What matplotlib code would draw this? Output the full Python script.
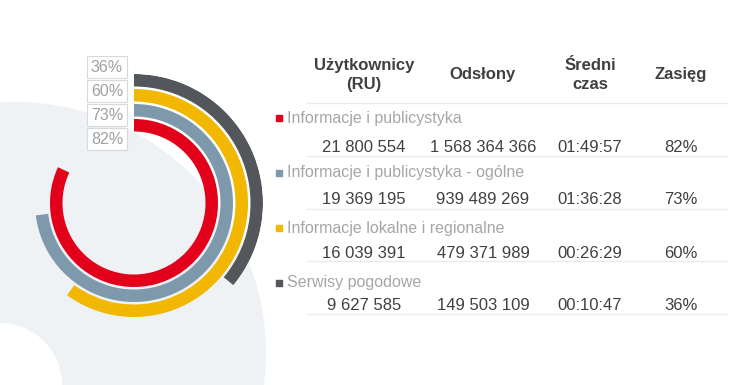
import numpy as np
import matplotlib
matplotlib.use("Agg")
import matplotlib.pyplot as plt
from matplotlib.patches import Circle, Rectangle

plt.rcParams['font.family'] = ['Liberation Sans', 'DejaVu Sans']

# --- dane ---
categories = ['Informacje i publicystyka', 'Informacje i publicystyka - ogólne',
              'Informacje lokalne i regionalne', 'Serwisy pogodowe']
users = ['21 800 554', '19 369 195', '16 039 391', '9 627 585']
views = ['1 568 364 366', '939 489 269', '479 371 989', '149 503 109']
avg_time = ['01:49:57', '01:36:28', '00:26:29', '00:10:47']
reach = [82, 73, 60, 36]
headers = ['Użytkownicy\n(RU)', 'Odsłony', 'Średni\nczas', 'Zasięg']
colors = ['#e3001b', '#7f99ac', '#f2b700', '#53565b']

W, H = 737, 385
fig = plt.figure(figsize=(W / 100, H / 100), dpi=100, facecolor='white')

# tło + tabela w układzie pikseli
bg = fig.add_axes([0, 0, 1, 1])
bg.set_xlim(0, W)
bg.set_ylim(H, 0)
bg.axis('off')
bg.add_patch(Circle((15, 353), 251, color='#eff2f5', lw=0, zorder=0))
bg.add_patch(Circle((0, H), 62, color='white', lw=0, zorder=1))

# kolumny tabeli
col_x = [364, 483, 590, 681]
for x, h in zip(col_x, headers):
    bg.text(x, 75, h, ha='center', va='center', fontsize=12, fontweight='bold',
            color='#404040', linespacing=1.3, multialignment='center')

for i, cat in enumerate(categories):
    y_lab = 118 + 55 * i
    y_num = 147 + 53 * i
    bg.plot([279], [y_lab], marker='s', ms=4, color=colors[i], lw=0)
    bg.text(287, y_lab, cat, ha='left', va='center', fontsize=11.5, color='#a6a6a6')
    row = [users[i], views[i], avg_time[i], f'{reach[i]}%']
    for x, v in zip(col_x, row):
        bg.text(x, y_num, v, ha='center', va='center', fontsize=12, color='#404040')

for k in range(5):
    y = 103 + 52.75 * k
    bg.plot([307, 727], [y, y], color='#ebebeb', lw=1)

# etykiety procentów przy pierścieniach
for j, val in enumerate(reach[::-1]):
    cy = 67 + 24 * j
    bg.add_patch(Rectangle((87, cy - 11), 40, 22, fc='white', ec='#d9d9d9', lw=0.8, zorder=3))
    bg.text(107, cy, f'{val}%', ha='center', va='center', fontsize=11.5, color='#a0a0a0', zorder=4)

# pierścienie (wykres polarny)
cx, cy, R = 134, 203, 129
ax = fig.add_axes([(cx - R) / W, (H - cy - R) / H, 2 * R / W, 2 * R / H], projection='polar')
ax.set_theta_zero_location('N')
ax.set_theta_direction(-1)
ax.set_ylim(0, R)
ax.patch.set_alpha(0)
ax.axis('off')
ring_w = 12.5
outer = [84, 99, 114, 129]
for val, r, c in zip(reach, outer, colors):
    ax.barh(r - ring_w / 2, val / 100 * 2 * np.pi, left=0, height=ring_w, color=c, lw=0)

fig.savefig('out.png', dpi=100, facecolor='white')
